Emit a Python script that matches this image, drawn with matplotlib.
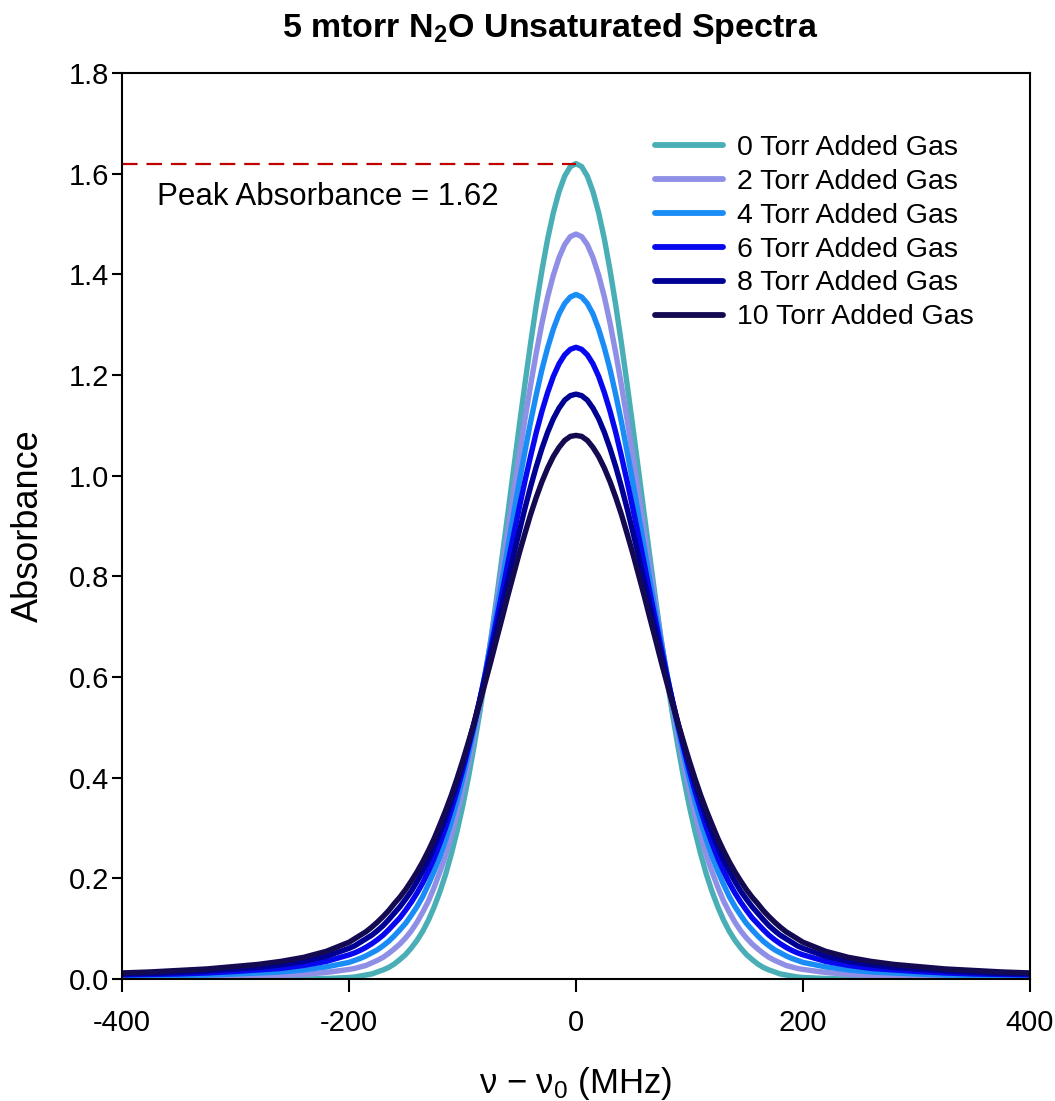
import numpy as np
import matplotlib
matplotlib.use("Agg")
import matplotlib.pyplot as plt

plt.rcParams['font.family'] = ['Liberation Sans', 'DejaVu Sans']
plt.rcParams['mathtext.fontset'] = 'custom'
plt.rcParams['mathtext.rm'] = 'Liberation Sans'
plt.rcParams['mathtext.it'] = 'Liberation Sans:italic'
plt.rcParams['mathtext.bf'] = 'Liberation Sans:bold'
plt.rcParams['axes.unicode_minus'] = False

# ---- data (half profiles, x >= 0 MHz; spectra are symmetric about nu0) ----
detuning_half = [0, 5, 10, 15, 20, 25, 30, 35, 40, 45, 50, 55, 60, 65, 70, 75, 80, 85, 90, 95,
                 100, 105, 110, 115, 120, 125, 130, 135, 140, 145, 150, 155, 160, 165, 170,
                 175, 180, 185, 190, 195, 200, 220, 240, 260, 280, 300, 325, 350, 375, 400]

abs_0torr = [1.620, 1.614, 1.595, 1.564, 1.522, 1.470, 1.408, 1.339, 1.263, 1.182,
             1.098, 1.012, 0.925, 0.840, 0.756, 0.675, 0.599, 0.527, 0.460, 0.398,
             0.342, 0.292, 0.247, 0.207, 0.173, 0.143, 0.117, 0.095, 0.077, 0.062,
             0.049, 0.039, 0.030, 0.023, 0.018, 0.014, 0.010, 0.008, 0.006, 0.004,
             0.003, 0.001, 0.000, 0.000, 0.000, 0.000, 0.000, 0.000, 0.000, 0.000]
abs_2torr = [1.480, 1.475, 1.459, 1.433, 1.398, 1.355, 1.303, 1.244, 1.180, 1.112,
             1.040, 0.967, 0.892, 0.818, 0.745, 0.674, 0.606, 0.542, 0.481, 0.425,
             0.373, 0.326, 0.284, 0.245, 0.212, 0.182, 0.155, 0.133, 0.113, 0.096,
             0.082, 0.070, 0.060, 0.051, 0.043, 0.037, 0.032, 0.027, 0.024, 0.021,
             0.019, 0.013, 0.009, 0.007, 0.006, 0.005, 0.004, 0.004, 0.003, 0.003]
abs_4torr = [1.360, 1.355, 1.342, 1.321, 1.291, 1.254, 1.211, 1.161, 1.107, 1.048,
             0.987, 0.923, 0.859, 0.794, 0.730, 0.668, 0.608, 0.550, 0.495, 0.444,
             0.396, 0.352, 0.312, 0.276, 0.243, 0.214, 0.188, 0.164, 0.144, 0.127,
             0.111, 0.098, 0.086, 0.075, 0.066, 0.058, 0.052, 0.046, 0.041, 0.037,
             0.033, 0.024, 0.018, 0.014, 0.012, 0.010, 0.008, 0.007, 0.006, 0.005]
abs_6torr = [1.255, 1.251, 1.240, 1.222, 1.197, 1.165, 1.128, 1.086, 1.039, 0.989,
             0.936, 0.882, 0.826, 0.769, 0.713, 0.658, 0.604, 0.553, 0.503, 0.457,
             0.413, 0.372, 0.335, 0.300, 0.269, 0.240, 0.214, 0.191, 0.171, 0.153,
             0.137, 0.122, 0.110, 0.098, 0.087, 0.078, 0.070, 0.063, 0.057, 0.052,
             0.048, 0.035, 0.027, 0.021, 0.018, 0.015, 0.012, 0.010, 0.009, 0.008]
abs_8torr = [1.162, 1.159, 1.150, 1.134, 1.113, 1.086, 1.054, 1.018, 0.978, 0.935,
             0.889, 0.842, 0.793, 0.744, 0.694, 0.646, 0.598, 0.552, 0.507, 0.465,
             0.425, 0.387, 0.352, 0.319, 0.289, 0.262, 0.237, 0.214, 0.194, 0.175,
             0.159, 0.144, 0.131, 0.118, 0.106, 0.096, 0.087, 0.080, 0.073, 0.066,
             0.061, 0.045, 0.035, 0.028, 0.023, 0.020, 0.016, 0.013, 0.011, 0.010]
abs_10torr = [1.080, 1.078, 1.070, 1.056, 1.038, 1.015, 0.988, 0.957, 0.923, 0.885,
              0.846, 0.804, 0.762, 0.718, 0.675, 0.631, 0.589, 0.547, 0.507, 0.469,
              0.432, 0.397, 0.364, 0.334, 0.306, 0.279, 0.255, 0.233, 0.213, 0.195,
              0.178, 0.163, 0.150, 0.136, 0.124, 0.113, 0.103, 0.094, 0.087, 0.080,
              0.073, 0.055, 0.043, 0.035, 0.029, 0.025, 0.020, 0.017, 0.014, 0.012]

series_labels = ['0 Torr Added Gas', '2 Torr Added Gas', '4 Torr Added Gas',
                 '6 Torr Added Gas', '8 Torr Added Gas', '10 Torr Added Gas']
series_values = [abs_0torr, abs_2torr, abs_4torr, abs_6torr, abs_8torr, abs_10torr]
series_colors = ['#4aaeb6', '#8f8fe6', '#1a8cf5', '#0808f0', '#000094', '#130a52']

peak_absorbance = 1.62
x_ticks = [-400, -200, 0, 200, 400]
y_ticks = [0.0, 0.2, 0.4, 0.6, 0.8, 1.0, 1.2, 1.4, 1.6, 1.8]


def mirror(half_x, half_y):
    hx = np.asarray(half_x, float)
    hy = np.asarray(half_y, float)
    return np.concatenate([-hx[::-1], hx[1:]]), np.concatenate([hy[::-1], hy[1:]])


fig = plt.figure(figsize=(10.55, 11.01), dpi=100)
ax = fig.add_axes([122 / 1055, 1 - 979 / 1101, 908 / 1055, 906 / 1101])

for lab, vals, col in zip(series_labels, series_values, series_colors):
    xx, yy = mirror(detuning_half, vals)
    ax.plot(xx, yy, color=col, lw=3.9, label=lab, solid_capstyle='round',
            solid_joinstyle='round')

ax.plot([-400, 0], [peak_absorbance, peak_absorbance], color='#c00000', lw=1.6,
        dashes=(7, 4))
ax.text(-369, 1.553, f'Peak Absorbance = {peak_absorbance:.2f}', fontsize=22.5,
        va='center', ha='left')

ax.set_xlim(-400, 400)
ax.set_ylim(0, 1.8)
ax.set_xticks(x_ticks)
ax.set_xticklabels([str(v) for v in x_ticks])
ax.set_yticks(y_ticks)
ax.set_yticklabels([f'{v:.1f}' for v in y_ticks])
ax.tick_params(axis='x', direction='out', length=9.5, width=1.5, labelsize=21, pad=12)
ax.tick_params(axis='y', direction='out', length=7, width=1.5, labelsize=21, pad=2.5)
for s in ax.spines.values():
    s.set_linewidth(1.5)

ax.set_ylabel('Absorbance', fontsize=26, labelpad=16)
ax.set_xlabel('ν − ν$_0$ (MHz)', fontsize=25, labelpad=20)

leg = ax.legend(loc='upper left', bbox_to_anchor=(0.587, 0.932), frameon=False,
                fontsize=20.5, handlelength=2.39, handletextpad=0.49, labelspacing=0.28,
                borderaxespad=0, borderpad=0)
for h in leg.get_lines():
    h.set_linewidth(4.2)

fig.text(0.521, 1 - 28 / 1101, '5 mtorr N$_\\mathbf{2}$O Unsaturated Spectra',
         fontsize=24.5, fontweight='bold', ha='center', va='center')

fig.savefig('out.png', dpi=100)
